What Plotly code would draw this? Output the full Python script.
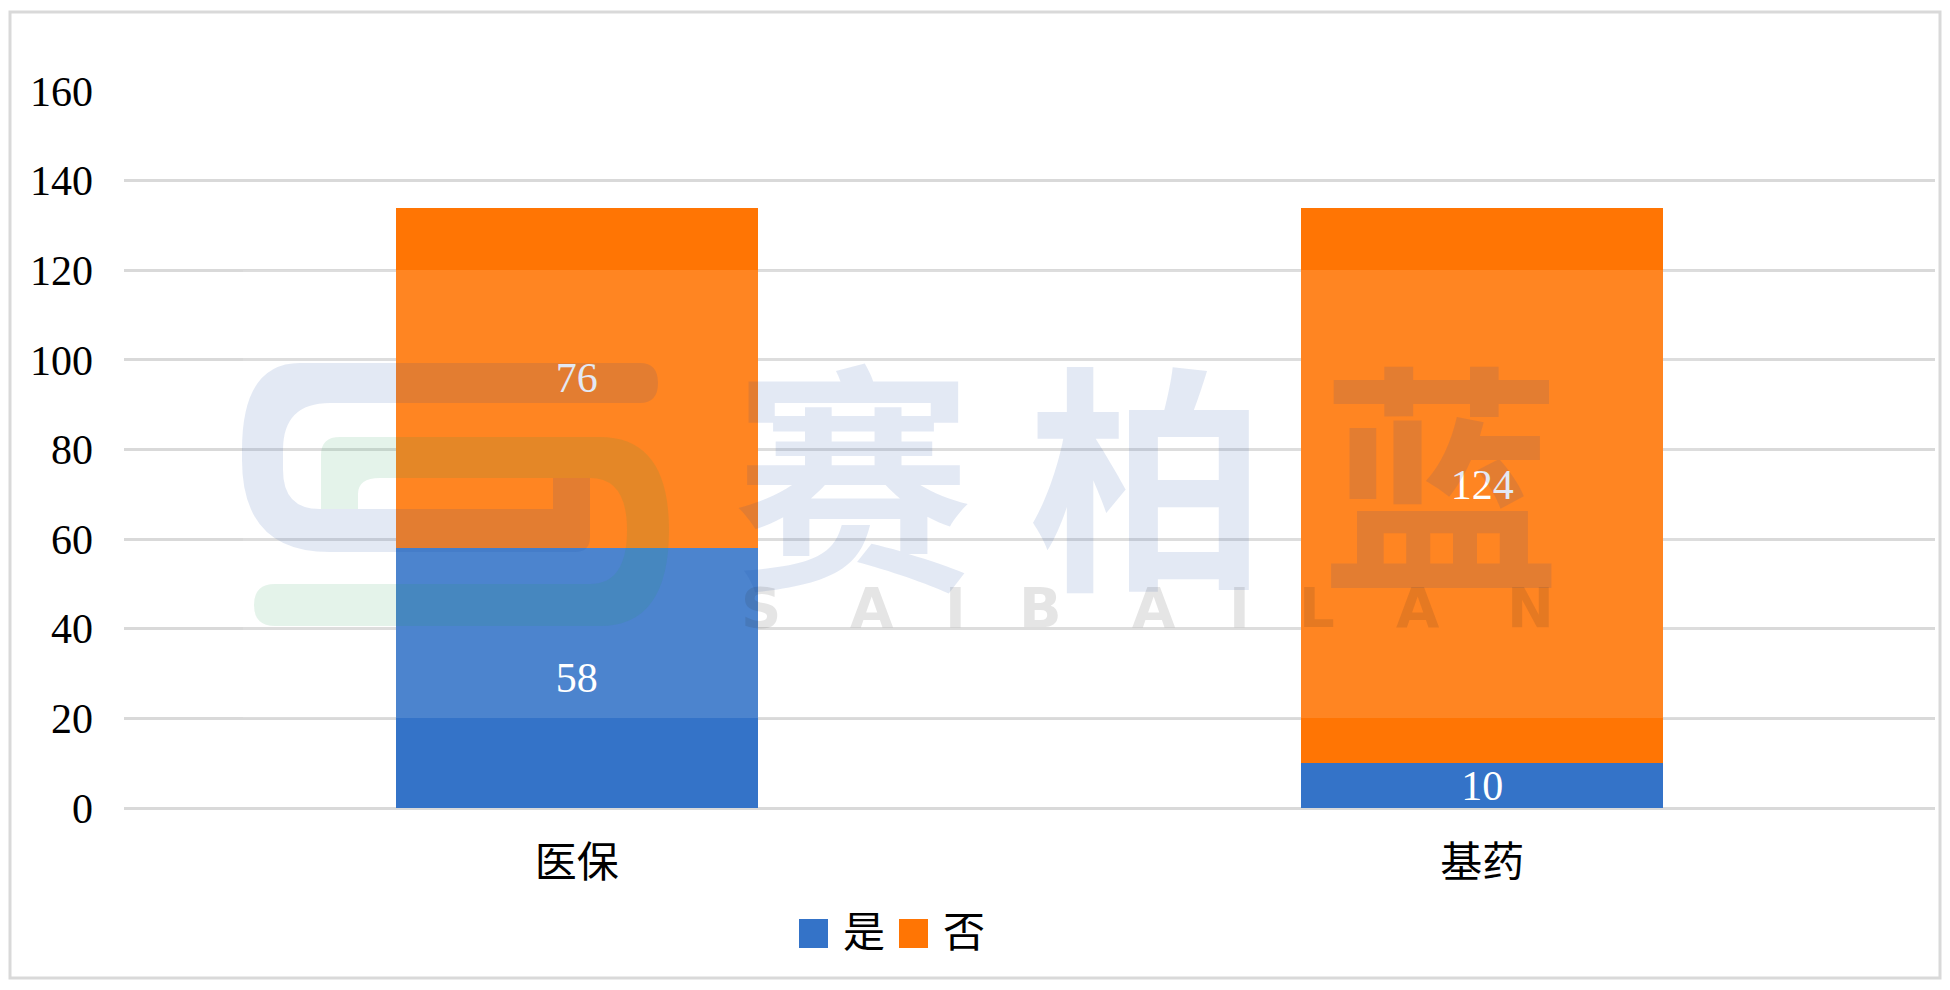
import plotly.graph_objects as go

# ---------------- data ----------------
categories = ["医保", "基药"]
yes_vals = [58, 10]
no_vals = [76, 124]
series_names = ["是", "否"]
y_ticks = [0, 20, 40, 60, 80, 100, 120, 140, 160]

BLUE = "#3473C8"
ORANGE = "#FF7504"
GRID = "#D9D9D9"
FONT = "Liberation Serif, Noto Sans CJK SC"

# page body has an 8px margin; figure coordinates = screen - 8
OFF = 8
W, H = 1942, 982
L, R, T, B = 116, 15, 83, 182
PW, PH = W - L - R, H - T - B


def px(x):
    """screen x pixel -> paper"""
    return (x - OFF - L) / PW


def py(y):
    """screen y pixel -> paper"""
    return (H - B - (y - OFF)) / PH


def path(cmds):
    out = []
    for c in cmds:
        if isinstance(c, str):
            out.append(c)
        else:
            out.append("%.5f,%.5f" % (px(c[0]), py(c[1])))
    return " ".join(out)


fig = go.Figure()
fig.add_trace(go.Bar(
    x=categories, y=yes_vals, name=series_names[0], marker=dict(color=BLUE, line=dict(width=0)),
    text=yes_vals, textposition="inside", insidetextanchor="middle", constraintext="none", textangle=0,
    textfont=dict(color="white", size=42, family=FONT), showlegend=False))
fig.add_trace(go.Bar(
    x=categories, y=no_vals, name=series_names[1], marker=dict(color=ORANGE, line=dict(width=0)),
    text=no_vals, textposition="inside", insidetextanchor="middle", constraintext="none", textangle=0,
    textfont=dict(color="white", size=42, family=FONT), showlegend=False))

shapes = []
annotations = []

# chart border
shapes.append(dict(type="rect", xref="paper", yref="paper", x0=px(10), x1=px(1940), y0=py(12), y1=py(978),
                   line=dict(color=GRID, width=3), fillcolor="rgba(0,0,0,0)", layer="below"))

# ---------------- watermark ----------------
WM_BLUE = "rgba(22,72,163,0.12)"
WM_GREEN = "rgba(30,155,80,0.12)"
WM_GRAY = "rgba(40,40,40,0.12)"

# translucent light band of the watermark image
shapes.append(dict(type="rect", xref="paper", yref="paper", x0=px(243), x1=px(1700), y0=py(270), y1=py(718),
                   line=dict(width=0), fillcolor="rgba(255,255,255,0.12)", layer="above"))

# logo: blue upper "C"
blue_c = path(["M", (300, 363), "L", (640, 363), "Q", (658, 363), (658, 383), "Q", (658, 403), (640, 403),
               "L", (330, 403), "Q", (283, 403), (283, 450), "L", (283, 470), "Q", (283, 509), (320, 509),
               "L", (553, 509), "L", (553, 478), "L", (590, 478), "L", (590, 537), "Q", (590, 552), (575, 552),
               "L", (330, 552), "Q", (242, 552), (242, 460), "L", (242, 450), "Q", (242, 363), (300, 363), "Z"])
shapes.append(dict(type="path", xref="paper", yref="paper", path=blue_c, fillcolor=WM_BLUE,
                   line=dict(width=0), layer="above"))
# logo: green lower reversed "C"
green_d = path(["M", (340, 437), "L", (600, 437), "Q", (669, 437), (669, 530), "Q", (669, 626), (600, 626),
                "L", (275, 626), "Q", (254, 626), (254, 605), "Q", (254, 584), (275, 584), "L", (590, 584),
                "Q", (627, 584), (627, 530), "Q", (627, 478), (590, 478), "L", (380, 478),
                "Q", (358, 478), (358, 494), "L", (358, 509), "L", (321, 509), "L", (321, 455),
                "Q", (321, 437), (340, 437), "Z"])
shapes.append(dict(type="path", xref="paper", yref="paper", path=green_d, fillcolor=WM_GREEN,
                   line=dict(width=0), layer="above"))

for ch, cx in zip(["赛", "柏", "蓝"], [853, 1148, 1441]):
    annotations.append(dict(text="<b>%s</b>" % ch, xref="paper", yref="paper", x=px(cx), y=py(466),
                            xanchor="center", yanchor="middle", showarrow=False,
                            font=dict(size=240, color=WM_BLUE, family="Noto Sans CJK SC", weight=900)))
for ch, cx in zip("SAIBAILAN", [761, 872, 955, 1040, 1154, 1239, 1317, 1418, 1530]):
    annotations.append(dict(text=ch, xref="paper", yref="paper", x=px(cx), y=py(607),
                            xanchor="center", yanchor="middle", showarrow=False,
                            font=dict(size=56, color=WM_GRAY, family="DejaVu Sans", weight=900)))

# ---------------- legend (manual) ----------------
for name, color, sx, tx in [(series_names[0], BLUE, 799, 843), (series_names[1], ORANGE, 899, 943)]:
    shapes.append(dict(type="rect", xref="paper", yref="paper", x0=px(sx), x1=px(sx + 29), y0=py(919),
                       y1=py(948), fillcolor=color, line=dict(width=0)))
    annotations.append(dict(text=name, xref="paper", yref="paper", x=px(tx - 2), y=py(933), xanchor="left",
                            yanchor="middle", showarrow=False, font=dict(size=42, color="#000000", family=FONT)))

fig.update_layout(
    width=W, height=H,
    margin=dict(l=L, r=R, t=T, b=B, pad=0),
    paper_bgcolor="white", plot_bgcolor="white",
    barmode="stack", bargap=0.6,
    showlegend=False,
    uniformtext=dict(minsize=42, mode="show"),
    font=dict(family=FONT, size=42, color="#000000"),
    xaxis=dict(showgrid=False, showline=False, zeroline=False, ticks="",
               tickfont=dict(size=42, color="#000000", family=FONT), ticklabelstandoff=26),
    yaxis=dict(range=[0, 160], tickvals=y_ticks, showgrid=True, gridcolor=GRID, gridwidth=3,
               zeroline=True, zerolinecolor=GRID, zerolinewidth=3, showline=False, ticks="",
               tickfont=dict(size=42, color="#000000", family=FONT), ticklabelstandoff=30),
    shapes=shapes,
    annotations=annotations,
)

fig.write_html("out.html")
